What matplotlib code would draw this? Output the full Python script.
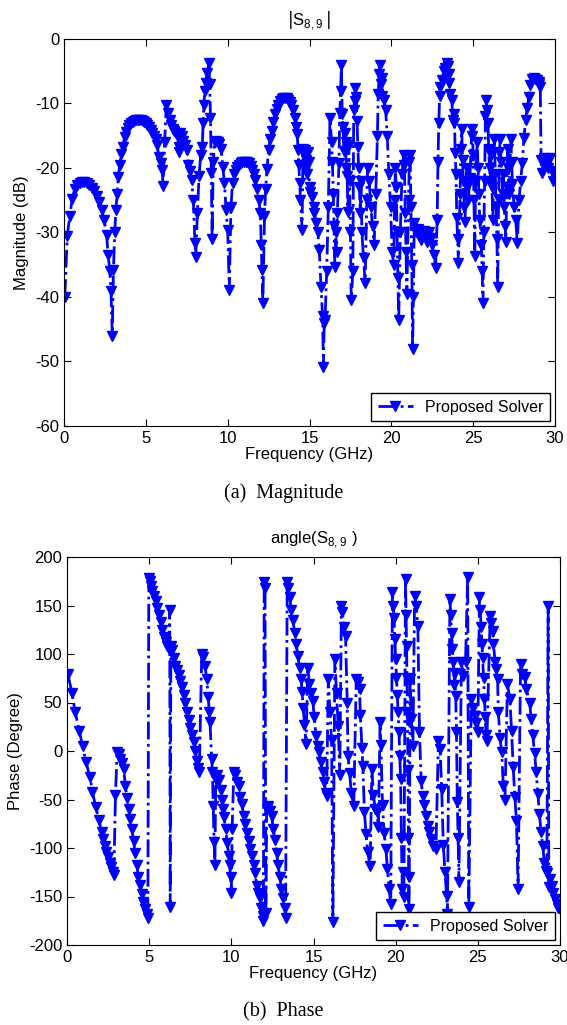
import numpy as np
import matplotlib.pyplot as plt

plt.rcParams['font.family'] = ['Liberation Sans', 'DejaVu Sans']
plt.rcParams['axes.unicode_minus'] = False

# |S89| magnitude, frequency in GHz, value in dB
freq_mag = [
    0.05, 0.2, 0.35, 0.5, 0.65, 0.8, 0.95, 1.1, 1.25, 1.4, 1.55, 1.7, 1.85, 2.0, 2.15, 2.3, 2.45, 2.6, 2.7, 2.8, 2.87, 2.95,
    3.02, 3.1, 3.17, 3.25, 3.32, 3.4, 3.5, 3.6, 3.7, 3.8, 3.9, 4.0, 4.1, 4.2, 4.3, 4.4, 4.5, 4.6, 4.7, 4.8, 4.9,
    5.0, 5.1, 5.2, 5.3, 5.4, 5.5, 5.6, 5.7, 5.8, 5.9, 6.0, 6.05, 6.15, 6.25, 6.35, 6.45, 6.55, 6.65, 6.75, 6.85, 6.95,
    7.0, 7.05, 7.1, 7.2, 7.3, 7.4, 7.5, 7.6, 7.7, 7.8, 7.9, 8.0, 8.05, 8.15, 8.25, 8.35, 8.45, 8.5, 8.55, 8.6, 8.65, 8.75, 8.85, 8.9, 8.95,
    9.0, 9.05, 9.12, 9.2, 9.3, 9.4, 9.5, 9.6, 9.7, 9.8, 9.9,
    10.0, 10.1, 10.2, 10.3, 10.4, 10.5, 10.6, 10.7, 10.8, 10.9, 11.0, 11.1, 11.2, 11.3, 11.4, 11.5, 11.6, 11.7, 11.8, 11.9,
    12.0, 12.05, 12.1, 12.15, 12.25, 12.32, 12.4, 12.5, 12.6, 12.7, 12.8, 12.9, 13.0, 13.1, 13.2, 13.3, 13.4, 13.5, 13.6, 13.7, 13.8, 13.9,
    14.0, 14.1, 14.2, 14.25, 14.3, 14.35, 14.4, 14.45, 14.55, 14.6, 14.65, 14.7, 14.75, 14.8, 14.85, 14.9, 14.95,
    15.0, 15.05, 15.15, 15.25, 15.3, 15.4, 15.5, 15.6, 15.7, 15.8, 15.85, 15.9, 15.95,
    16.05, 16.15, 16.25, 16.35, 16.4, 16.45, 16.5, 16.55, 16.6, 16.65, 16.7, 16.8, 16.85, 16.9, 16.95,
    17.0, 17.05, 17.1, 17.15, 17.2, 17.25, 17.3, 17.35, 17.4, 17.45, 17.5, 17.55, 17.65, 17.7, 17.75, 17.8, 17.85, 17.9, 17.95,
    18.0, 18.05, 18.1, 18.15, 18.2, 18.3, 18.4, 18.5, 18.55, 18.65, 18.75, 18.85, 18.95,
    19.05, 19.15, 19.2, 19.25, 19.3, 19.35, 19.4, 19.45, 19.55, 19.65, 19.75, 19.85, 19.95,
    20.05, 20.15, 20.2, 20.25, 20.3, 20.35, 20.4, 20.45, 20.55, 20.65, 20.75, 20.8, 20.85, 20.9, 20.95,
    21.05, 21.1, 21.15, 21.2, 21.25, 21.3, 21.35, 21.4, 21.5, 21.6, 21.7, 21.8, 21.9,
    22.0, 22.1, 22.2, 22.3, 22.4, 22.5, 22.6, 22.7, 22.8, 22.85, 22.9, 22.95,
    23.0, 23.1, 23.2, 23.3, 23.4, 23.45, 23.5, 23.55, 23.6, 23.7, 23.75, 23.8, 23.85, 23.9, 23.95,
    24.0, 24.05, 24.1, 24.2, 24.25, 24.3, 24.35, 24.4, 24.45, 24.5, 24.6, 24.65, 24.7, 24.8, 24.9, 24.95,
    25.0, 25.05, 25.1, 25.15, 25.25, 25.3, 25.35, 25.4, 25.5, 25.55, 25.6, 25.65, 25.7, 25.75, 25.8, 25.85, 25.9, 25.95,
    26.0, 26.05, 26.1, 26.15, 26.2, 26.3, 26.35, 26.4, 26.45, 26.5, 26.55, 26.6, 26.65, 26.7, 26.8, 26.85, 26.9, 26.95,
    27.0, 27.05, 27.1, 27.15, 27.2, 27.3, 27.35, 27.4, 27.5, 27.6, 27.7, 27.8, 27.9,
    28.0, 28.1, 28.2, 28.3, 28.4, 28.5, 28.6, 28.7, 28.8, 28.9,
    29.0, 29.05, 29.1, 29.15, 29.2, 29.3, 29.4, 29.5, 29.6, 29.7, 29.8, 29.9, 30.0,
]
mag_db = [
    -40, -30.5, -27.5, -24.8, -23.3, -22.6, -22.3, -22.2, -22.2, -22.4, -22.7, -23.1, -23.6, -24.3, -25.2, -26.5, -28, -30.4, -33.5, -36, -39, -46,
    -35.8, -30, -26.5, -24, -21.4, -19.5, -17.8, -16.7, -15.2, -14.4, -13.8, -13.4, -13.1, -12.9, -12.7, -12.6, -12.5, -12.5, -12.6, -12.7, -12.9,
    -13.1, -13.4, -13.7, -14.1, -14.5, -15, -15.5, -16.5, -18.3, -19.2, -20.3, -22.8, -16, -10.2, -11.5, -12.5, -13.3, -14, -14.3, -14.5, -15.2,
    -16.7, -17.5, -14.5, -15, -15.8, -16.5, -17.2, -19.5, -20.5, -21.8, -25, -31.6, -33.8, -27, -21.3, -18, -16.7, -13, -10.2, -8, -6.8, -5.3, -3.7, -7, -12.2,
    -20.7, -31, -19, -16, -15.8, -16, -16.3, -17, -19.8, -22.3, -26.5,
    -29.6, -38.9, -26, -22.3, -21, -20.3, -19.8, -19.5, -19.2, -19, -19, -19, -19.1, -19.3, -19.7, -20.3, -21, -21.8, -23.3, -25,
    -27, -32, -35.8, -41, -27.5, -23.3, -20.2, -17.2, -15.5, -14.2, -12.8, -11.6, -10.8, -10.2, -9.6, -9.3, -9.1, -9.1, -9.2, -9.4, -9.8, -10.3,
    -11, -12.2, -13.6, -14.8, -17.2, -19.5, -22.3, -25, -29.6, -17, -18, -19.5, -17.2, -18.8, -21, -17.5, -19,
    -22.9, -23.7, -24.5, -26, -27, -28.5, -30, -32.7, -38.4, -43, -50.8, -44, -43.6,
    -36, -26, -12.3, -16, -19, -24, -29, -35.3, -30, -33, -27, -19.2, -11.5, -8, -4,
    -11.6, -13.6, -17.3, -14.5, -16, -20, -21.3, -26.8, -16.5, -22, -30, -40.5, -36, -11, -9.6, -7.6, -9, -12.7, -16.8,
    -20, -23, -26.9, -22, -30, -34, -37.8, -25, -20, -22, -26, -29, -32,
    -24, -15, -8.5, -5.5, -4, -7, -6, -8.8, -9.5, -11, -15, -21, -26,
    -33, -35, -25, -20, -23, -30, -37, -43.6, -30, -21, -18, -19.5, -27, -33, -39.6,
    -25, -19, -18, -26, -35, -48, -40, -28.5, -30, -29.5, -30.5, -31.2, -30.3,
    -29.8, -30.6, -31.5, -30, -30.8, -32, -33.5, -35.5, -28, -19, -13, -8.8,
    -7.4, -6.3, -5, -4.5, -3.7, -4.2, -5.4, -6.8, -8.5, -9.5, -12.5, -13, -11.6, -17.6, -21,
    -27.7, -31, -34.8, -24, -17, -14, -18.8, -22, -26, -28.4, -20, -23, -25, -21.5, -15, -14,
    -18, -25, -33.7, -22, -16, -20, -24, -28, -32, -36, -41, -30, -22, -12, -9.5, -11, -13, -17,
    -20, -22, -18, -23, -28, -15.5, -21, -26, -31, -38.5, -25, -17.5, -15.5, -19, -24, -21, -26, -29,
    -31.5, -23, -17, -20, -24, -15.5, -19, -22.5, -26, -28, -31.7, -25, -22,
    -19.3, -15.4, -12.6, -10.7, -9, -7.1, -6.2, -6, -6.2, -6.4,
    -7, -6.6, -7.5, -18.8, -20.8, -18.5, -19.5, -19, -20, -18.5, -20.5, -22, -21,
]

# angle(S89), frequency in GHz, value in degrees
freq_phase = [
    0.06, 0.3, 0.5, 0.75, 0.95, 1.15, 1.4, 1.55, 1.75, 1.95, 2.1, 2.2, 2.3, 2.4, 2.5, 2.6, 2.7, 2.78, 2.85, 2.95,
    3.05, 3.15, 3.25, 3.35, 3.45, 3.55, 3.65, 3.75, 3.85, 3.95, 4.05, 4.15, 4.25, 4.35, 4.45, 4.55, 4.65, 4.75, 4.85, 4.92, 4.98,
    5.05, 5.1, 5.2, 5.3, 5.4, 5.5, 5.6, 5.7, 5.8, 5.9, 6.0, 6.1, 6.2, 6.25, 6.28, 6.32, 6.4, 6.5, 6.6, 6.7, 6.8, 6.9,
    7.0, 7.1, 7.2, 7.3, 7.4, 7.5, 7.6, 7.7, 7.8, 7.9, 8.0, 8.05, 8.2, 8.3, 8.4, 8.5, 8.6, 8.65, 8.7, 8.8, 8.85, 8.9, 8.95,
    9.0, 9.05, 9.15, 9.25, 9.35, 9.45, 9.5, 9.55, 9.65, 9.75, 9.85, 9.9, 9.95,
    10.0, 10.05, 10.15, 10.25, 10.35, 10.45, 10.55, 10.65, 10.75, 10.85, 10.95, 11.05, 11.15, 11.25, 11.35, 11.45, 11.55, 11.65, 11.75, 11.82, 11.9, 11.95,
    12.0, 12.05, 12.1, 12.15, 12.25, 12.35, 12.45, 12.55, 12.65, 12.75, 12.85, 12.95, 13.05, 13.15, 13.25, 13.3, 13.4, 13.45, 13.55, 13.65, 13.75, 13.85, 13.95,
    14.05, 14.15, 14.25, 14.3, 14.38, 14.45, 14.55, 14.65, 14.75, 14.85, 14.95, 15.05, 15.15, 15.25, 15.35, 15.45, 15.55, 15.65, 15.75, 15.8, 15.9,
    16.0, 16.1, 16.18, 16.3, 16.4, 16.5, 16.6, 16.7, 16.75, 16.85, 16.95, 17.05, 17.1, 17.2, 17.3, 17.45, 17.6, 17.7, 17.8, 17.85, 17.95,
    18.0, 18.1, 18.2, 18.3, 18.45, 18.55, 18.65, 18.75, 18.85, 18.95, 19.05, 19.1, 19.2, 19.3, 19.4, 19.5, 19.6, 19.7,
    19.8, 19.85, 19.9, 19.95, 20.0, 20.05, 20.1, 20.15, 20.2, 20.25, 20.3, 20.35, 20.4, 20.45, 20.5,
    20.6, 20.63, 20.66, 20.69, 20.72, 20.75, 20.78, 20.8, 20.83, 20.88, 20.95, 21.05,
    21.15, 21.25, 21.35, 21.45, 21.55, 21.65, 21.75, 21.85, 21.95,
    22.05, 22.15, 22.3, 22.45, 22.6, 22.7, 22.8, 22.9, 23.0, 23.1, 23.15,
    23.3, 23.35, 23.4, 23.45, 23.5, 23.55, 23.6, 23.65, 23.7, 23.75, 23.8, 23.85,
    24.0, 24.1, 24.25, 24.38, 24.45, 24.6, 24.7, 24.8, 24.9, 25.0,
    25.1, 25.15, 25.2, 25.25, 25.3, 25.35, 25.4, 25.45, 25.5, 25.55,
    25.75, 25.8, 25.9, 25.95, 26.05, 26.1, 26.2, 26.25, 26.35, 26.45, 26.55, 26.65,
    26.8, 26.95, 27.05, 27.15, 27.25, 27.35, 27.45, 27.6, 27.7, 27.85, 27.95,
    28.15, 28.25, 28.35, 28.45, 28.55, 28.65, 28.75, 28.85, 28.95, 29.05, 29.15, 29.2, 29.28, 29.32, 29.4, 29.5, 29.6, 29.7, 29.8, 29.9, 30.0,
]
phase_deg = [
    79, 60, 40, 21, 5, -11, -27, -42, -58, -71, -84, -91, -98, -104, -109, -115, -120, -125, -128, -45,
    -1, -3, -8, -12, -19, -36, -48, -60, -70, -80, -93, -105, -118, -130, -138, -147, -156, -163, -168, -172, 178,
    175, 170, 165, 160, 155, 147, 140, 133, 125, 118, 112, 108, 105, 145, -161, 108, 104, 96, 88, 84, 78, 72,
    66, 58, 50, 40, 32, 24, 17, 9, 0, -10, -18, -22, 100, 97, 88, 74, 56, 40, 30, -8, -22, -57, -94,
    -118, -30, -25, -30, -40, -50, -60, -68, -80, -95, -108, -118, -130,
    -146, -80, -22, -25, -32, -36, -47, -55, -67, -75, -85, -93, -101, -108, -118, -126, -139, -146, -152, -162, -170, -175,
    174, 168, -167, -60, -57, -62, -67, -80, -92, -105, -118, -130, -142, -152, -162, -172, 174, 168, 159, 145, 135, 122, 110,
    98, 86, 74, 61, 44, 27, 7, 86, 69, 60, 52, 35, 15, 5, -1, -11, -22, -32, -43, -46, 74,
    40, 11, -176, 95, 60, 26, -25, 150, 143, 128, 119, 50, -5, -23, -43, -57, 74, 71, 64, 37, 3,
    -15, -63, -86, -104, -119, -19, -45, -60, -63, -78, 30, 6, -56, -85, -101, -122, -142, -158,
    164, 150, 137, 115, 95, 75, 58, 40, 20, -5, -29, -90, -142, -125, -150,
    177, 140, 108, 75, 40, -20, -90, -163, -130, 74, 33, 5,
    160, 150, 129, 20, -31, -46, -56, -67, -77,
    -84, -91, -98, -101, 10, 2, -39, -97, -125, -149, -168,
    157, 140, 122, 105, 92, 68, 80, 57, 20, -53, -90, -135,
    92, 77, 92, 179, -161, 54, 44, 36, 29, 20,
    159, 145, 128, 110, 96, 75, 54, 35, 17, 10,
    139, 132, 124, 110, 92, 85, 74, 40, 13, -1, -36, -51,
    69, 54, 21, -16, -47, -72, -142, 90, 79, 76, 64,
    50, 33, 17, -2, -22, -44, -65, -84, -98, -115, -124, -126, 150, -140, -132, -139, -146, -153, -158, -162, -163,
]

assert len(freq_mag) == len(mag_db), (len(freq_mag), len(mag_db))
assert len(freq_phase) == len(phase_deg), (len(freq_phase), len(phase_deg))

fig = plt.figure(figsize=(5.67, 10.25), dpi=100)
ax1 = fig.add_axes([64 / 567, 1 - 426 / 1025, 491 / 567, 387 / 1025])
ax2 = fig.add_axes([67 / 567, 1 - 945 / 1025, 493 / 567, 388 / 1025])

style = dict(color='b', linestyle='-.', linewidth=2, marker='v', markersize=7.5,
             markerfacecolor='b', markeredgecolor='b', label='Proposed Solver')

ax1.plot(freq_mag, mag_db, **style)
ax1.set_xlim(0, 30)
ax1.set_ylim(-60, 0)
ax1.set_yticks(np.arange(-60, 1, 10))
ax1.set_title('$|\\mathregular{S}_{\\mathregular{8,9}}\\,|$', fontsize=12, pad=10)
ax1.set_ylabel('Magnitude (dB)', fontsize=12)

ax2.plot(freq_phase, phase_deg, **style)
ax2.set_xlim(0, 30)
ax2.set_ylim(-200, 200)
ax2.set_yticks(np.arange(-200, 201, 50))
ax2.set_title('angle(S$_{\\mathregular{8,9}}$ )', fontsize=12, pad=10)
ax2.set_ylabel('Phase (Degree)', fontsize=12)

for ax in (ax1, ax2):
    ax.set_xticks(np.arange(0, 31, 5))
    ax.set_xlabel('Frequency (GHz)', fontsize=12, labelpad=1)
    ax.tick_params(direction='in', top=True, right=True, length=5, labelsize=12)
    leg = ax.legend(loc='lower right', fontsize=11.5, fancybox=False, framealpha=1,
                    edgecolor='k', borderaxespad=0.3, handlelength=2.2)
    leg.get_frame().set_linewidth(1)

fig.text(0.5, 1 - 493 / 1025, '(a)  Magnitude', ha='center', va='center',
         family=['Liberation Serif', 'DejaVu Serif'], fontsize=14.5)
fig.text(0.5, 1 - 1012 / 1025, '(b)  Phase', ha='center', va='center',
         family=['Liberation Serif', 'DejaVu Serif'], fontsize=14.5)

fig.savefig('out.png', dpi=100)
